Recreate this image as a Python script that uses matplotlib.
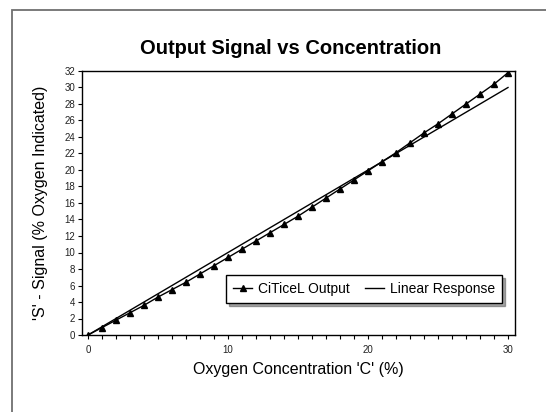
import matplotlib
matplotlib.use("Agg")
import matplotlib.pyplot as plt
from matplotlib.patches import Rectangle
from matplotlib.ticker import MultipleLocator

plt.rcParams['font.family'] = ['Liberation Sans', 'DejaVu Sans']

# concentracion de oxigeno (%)
concentracion = list(range(0, 31))
# salida del sensor
salida = [0, 0.9, 1.8, 2.7, 3.6, 4.6, 5.5, 6.4, 7.4, 8.4, 9.4,
          10.4, 11.4, 12.4, 13.4, 14.4, 15.5, 16.6, 17.7, 18.8, 19.9,
          21.0, 22.1, 23.3, 24.5, 25.6, 26.8, 28.0, 29.2, 30.4, 31.8]
# respuesta lineal ideal
lineal_x = [0, 30]
lineal_y = [0, 30]

fig = plt.figure(figsize=(5.46, 4.12), dpi=100)

# marco gris exterior (se sale por la derecha y por abajo)
marco = Rectangle((11.5 / 546, -0.05), 0.99, (412 - 9.5) / 412 + 0.05,
                  transform=fig.transFigure, fill=False, edgecolor='#707070', linewidth=1.3)
fig.patches.append(marco)

ax = fig.add_axes([82 / 546, 1 - 335 / 412, (515 - 82) / 546, (335 - 71) / 412])

ax.plot(concentracion, salida, color='black', marker='^', markersize=5,
        linewidth=1, label='CiTiceL Output')
ax.plot(lineal_x, lineal_y, color='black', linewidth=1, label='Linear Response')

ax.set_xlim(-0.43, 30.5)
ax.set_ylim(0, 32)
ax.xaxis.set_major_locator(MultipleLocator(10))
ax.xaxis.set_minor_locator(MultipleLocator(1))
ax.yaxis.set_major_locator(MultipleLocator(2))
ax.tick_params(axis='both', which='both', direction='out', length=3, width=0.8,
               labelsize=7, labelcolor='#222222')
ax.tick_params(axis='y', pad=2)
ax.tick_params(axis='x', pad=4)
for s in ax.spines.values():
    s.set_linewidth(1)

ax.set_xlabel("Oxygen Concentration 'C' (%)", fontsize=11.5, labelpad=5)
ax.set_ylabel("'S' - Signal (% Oxygen Indicated)", fontsize=11.5, labelpad=12)
fig.text(291 / 546, 1 - 48.5 / 412, 'Output Signal vs Concentration', fontsize=14.5,
         fontweight='bold', ha='center', va='center')

leg = ax.legend(ncol=2, loc='lower right', bbox_to_anchor=(0.97, 0.121),
                fontsize=10, frameon=True, fancybox=False, shadow=True,
                edgecolor='black', framealpha=1, borderaxespad=0,
                handlelength=1.4, handletextpad=0.4, columnspacing=1.1,
                borderpad=0.5)
leg.get_frame().set_linewidth(1)

fig.savefig("out.png", dpi=100)
